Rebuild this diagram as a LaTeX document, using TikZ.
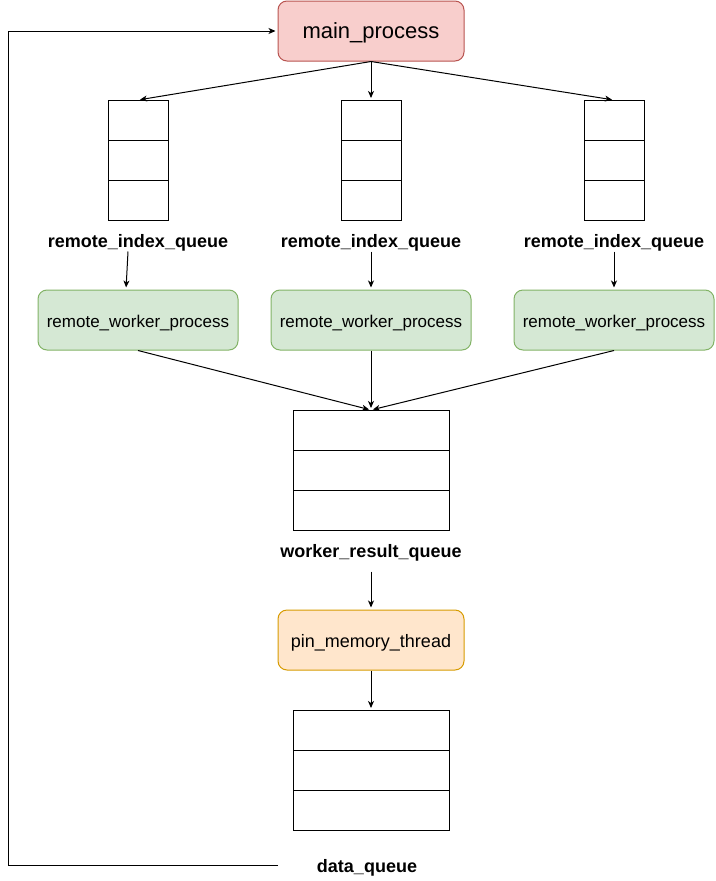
\documentclass[tikz,border=0pt]{standalone}
\usepackage{fontspec}
\setmainfont{Liberation Sans}
\usetikzlibrary{positioning,arrows.meta}
\definecolor{procfill}{HTML}{F8CECC}
\definecolor{procline}{HTML}{B85450}
\definecolor{workfill}{HTML}{D5E8D4}
\definecolor{workline}{HTML}{82B366}
\definecolor{pinfill}{HTML}{FFE6CC}
\definecolor{pinline}{HTML}{D79B00}

\begin{document}
\begin{tikzpicture}[x=1pt,y=-1pt,line width=1pt,
    arr/.style={->,>={Stealth[length=7pt,width=6pt,inset=2pt]},shorten >=2pt},
    main node/.style={rectangle,rounded corners=9pt,draw=procline,fill=procfill,minimum width=186pt,minimum height=60pt,text height=18pt,text depth=4pt,font=\fontsize{22}{26}\selectfont},
    worker node/.style={rectangle,rounded corners=9pt,draw=workline,fill=workfill,minimum width=200pt,minimum height=60pt,text height=16pt,text depth=2pt,font=\fontsize{17}{20}\selectfont},
    pin node/.style={rectangle,rounded corners=9pt,draw=pinline,fill=pinfill,minimum width=186pt,minimum height=60pt,text height=16pt,text depth=2pt,font=\fontsize{18}{21}\selectfont},
    cell/.style={rectangle,draw,minimum width=60pt,minimum height=40pt,inner sep=0pt,outer sep=0pt},
    wide cell/.style={cell,minimum width=156pt},
    queue label/.style={inner sep=0pt,minimum height=20pt,text height=16pt,text depth=4pt,font=\bfseries\fontsize{18}{22}\selectfont}]
    \useasboundingbox (0,0) rectangle (715,881);

    \node[main node] (main) at (371,31) {main\_process};

    \node[cell] (q1a) at (138,120) {};
    \node[cell] (q1b) [below=0pt of q1a] {};
    \node[cell] (q1c) [below=0pt of q1b] {};
    \node[cell] (q2a) at (371,120) {};
    \node[cell] (q2b) [below=0pt of q2a] {};
    \node[cell] (q2c) [below=0pt of q2b] {};
    \node[cell] (q3a) at (614,120) {};
    \node[cell] (q3b) [below=0pt of q3a] {};
    \node[cell] (q3c) [below=0pt of q3b] {};

    \node[queue label] (l1) at (138,241) {remote\_index\_queue};
    \node[queue label] (l2) at (371,241) {remote\_index\_queue};
    \node[queue label] (l3) at (614,241) {remote\_index\_queue};

    \node[worker node] (w1) at (138,320) {remote\_worker\_process};
    \node[worker node] (w2) at (371,320) {remote\_worker\_process};
    \node[worker node] (w3) at (614,320) {remote\_worker\_process};

    \node[wide cell] (r1) at (371,430) {};
    \node[wide cell] (r2) [below=0pt of r1] {};
    \node[wide cell] (r3) [below=0pt of r2] {};
    \node[queue label,minimum height=40pt] (lr) at (371,551) {worker\_result\_queue};

    \node[pin node] (pin) at (371,640) {pin\_memory\_thread};

    \node[wide cell] (d1) at (371,730) {};
    \node[wide cell] (d2) [below=0pt of d1] {};
    \node[wide cell] (d3) [below=0pt of d2] {};
    \node[queue label] (ld) at (367,866) {data\_queue};

    \coordinate (fbstart) at (278,865);
    \coordinate (fbcorner) at (8,865);

    \path[arr]
        (main.south) edge (q1a.north)
        (main.south) edge (q2a.north)
        (main.south) edge (q3a.north)
        ([xshift=-10pt]l1.south) edge ([xshift=-12pt]w1.north)
        (l2.south) edge (w2.north)
        (l3.south) edge (w3.north)
        (w1.south) edge (r1.north)
        (w2.south) edge (r1.north)
        (w3.south) edge (r1.north)
        (lr.south) edge (pin.north)
        (pin.south) edge (d1.north)
    ;
    \draw[arr] (fbstart) -- (fbcorner) |- (main.west);
\end{tikzpicture}
\end{document}
